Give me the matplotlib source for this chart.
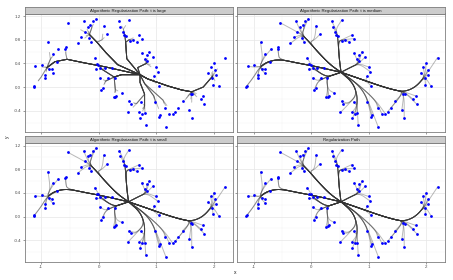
import numpy as np
import matplotlib
matplotlib.use('Agg')
import matplotlib.pyplot as plt
from matplotlib.ticker import MultipleLocator

plt.rcParams['font.family'] = ['Liberation Sans', 'DejaVu Sans']

panel_titles = ["Algorithmic Regularization Path: t is large",
                "Algorithmic Regularization Path: t is medium",
                "Algorithmic Regularization Path: t is small",
                "Regularization Path"]

# fusion nodes of the path tree (name, x, y, parent)
node_name = ['R', 'A1', 'A2', 'A3', 'A4', 'LH', 'LA', 'LB', 'LC',
             'U3', 'U2', 'U1', 'ULH', 'ULT', 'ULR',
             'M1', 'M2', 'UMH', 'UMT', 'MR',
             'RU1', 'RUH',
             'T1', 'T2', 'T3', 'RLH', 'T4', 'RH', 'TS',
             'D1', 'D2', 'DH', 'DL', 'F1', 'F2', 'F3',
             'LM0', 'LM', 'LMU', 'LMD', 'LML']
node_x = [0.52, 0.10, -0.25, -0.55, -0.76, -0.90, -1.00, -0.84, -0.57,
          0.33, 0.13, -0.03, -0.16, -0.12, 0.06,
          0.49, 0.47, 0.455, 0.43, 0.53,
          0.68, 0.83,
          0.85, 1.20, 1.45, 1.62, 1.82, 1.98, 0.95,
          0.72, 0.80, 0.80, 0.66, 0.80, 0.96, 1.12,
          0.40, 0.27, 0.06, 0.29, 0.12]
node_y = [0.25, 0.345, 0.41, 0.47, 0.43, 0.33, 0.17, 0.47, 0.56,
          0.38, 0.58, 0.76, 0.89, 1.00, 0.80,
          0.48, 0.76, 0.89, 0.98, 0.80,
          0.33, 0.40,
          0.14, 0.02, -0.05, -0.08, 0.00, 0.18, 0.10,
          0.08, -0.12, -0.32, -0.28, 0.06, -0.15, -0.22,
          0.21, 0.17, 0.30, -0.04, 0.10]
node_parent = [None, 'R', 'A1', 'A2', 'A3', 'A4', 'LH', 'LH', 'A3',
               'R', 'U3', 'U2', 'U1', 'ULH', 'U1',
               'R', 'M1', 'M2', 'UMH', 'M2',
               'R', 'RU1',
               'R', 'T1', 'T2', 'T3', 'RLH', 'T4', 'T1',
               'R', 'D1', 'D2', 'D2', 'R', 'F1', 'F1',
               'R', 'LM0', 'LM', 'LM', 'LM']
root_large = (0.72, 0.21)

# observed points and the node where they fuse first
pt_x = [-1.13, -1.12, -1.10, -0.99, -0.93, -0.93, -0.86, -0.81, -0.80, -0.88, -0.80, -0.70, -0.72, -0.57, -0.58,
        -0.54, -0.36, -0.30, -0.26, -0.24, -0.19, -0.15, -0.10, -0.05, -0.16, -0.13, 0.09, 0.15,
        0.36, 0.53, 0.38, 0.42, 0.44, 0.47, 0.54, 0.59, 0.66, 0.71, 0.75,
        0.75, 0.84, 0.88, 0.80, 0.84, 0.94, 1.00, 1.03,
        0.97, 1.05,
        2.20, 2.00, 1.95, 2.03, 1.91, 2.04, 1.98, 1.99, 2.09,
        1.60, 1.63, 1.82, 1.78, 1.84, 1.58, 1.62, 1.46, 1.39, 1.33,
        0.53, 0.56, 0.51, 0.74, 0.71, 0.76, 0.80, 0.72, 0.82, 0.98, 1.06, 1.05, 1.17, 1.16, 1.23, 1.29,
        -0.07, -0.03, -0.01, -0.04, 0.03, 0.11, 0.23, 0.03, 0.05, 0.08, 0.17, 0.28, 0.26, 0.29, 0.31, 0.40]
pt_y = [0.005, 0.02, 0.35, 0.37, 0.15, 0.21, 0.31, 0.30, 0.23, 0.76, 0.56, 0.64, 0.43, 0.67, 0.65,
        1.09, 0.74, 0.84, 1.11, 0.94, 1.02, 1.05, 1.11, 1.16, 0.83, 0.77, 1.04, 0.89,
        1.11, 1.13, 1.02, 0.94, 0.88, 0.86, 0.78, 0.80, 0.77, 0.88, 0.82,
        0.57, 0.55, 0.60, 0.47, 0.44, 0.51, 0.34, 0.26,
        0.18, 0.02,
        0.50, 0.40, 0.34, 0.29, 0.24, 0.21, 0.15, 0.04, 0.01,
        -0.11, -0.12, -0.15, -0.21, -0.29, -0.38, -0.52, -0.24, -0.35, -0.42,
        -0.24, -0.28, -0.43, -0.25, -0.43, -0.45, -0.44, -0.53, -0.65, -0.25, -0.47, -0.50, -0.68, -0.35, -0.45, -0.45,
        0.49, 0.39, 0.38, 0.31, 0.33, 0.33, 0.33, 0.16, -0.05, -0.01, 0.15, 0.15, -0.17, -0.16, -0.15, -0.10]
pt_parent = ['LA', 'LA', 'LH', 'LH', 'LH', 'LH', 'LH', 'LH', 'LH', 'LB', 'LB', 'LB', 'LH', 'LC', 'LC',
             'ULH', 'ULH', 'ULH', 'ULH', 'ULH', 'ULH', 'ULT', 'ULT', 'ULT', 'ULH', 'ULH', 'ULR', 'ULR',
             'UMT', 'UMT', 'UMH', 'UMH', 'UMH', 'UMH', 'MR', 'MR', 'MR', 'MR', 'MR',
             'RUH', 'RUH', 'RUH', 'RUH', 'RUH', 'RUH', 'RUH', 'RUH',
             'TS', 'TS',
             'RH', 'RH', 'RH', 'RH', 'RH', 'RH', 'RH', 'RH', 'RH',
             'RLH', 'RLH', 'RLH', 'RLH', 'RLH', 'RLH', 'RLH', 'RLH', 'RLH', 'RLH',
             'DL', 'DL', 'DL', 'DH', 'DH', 'DH', 'DH', 'DH', 'DH', 'F2', 'F2', 'F2', 'F2', 'F3', 'F3', 'F3',
             'LMU', 'LMU', 'LMU', 'LMU', 'LMU', 'LMU', 'LMU', 'LML', 'LML', 'LML', 'LML', 'LM', 'LMD', 'LMD', 'LMD', 'LMD']

x_ticks = [-1, 0, 1, 2]
y_ticks = [-0.4, 0.0, 0.4, 0.8, 1.2]

nodes = {n: (x, y, p) for n, x, y, p in zip(node_name, node_x, node_y, node_parent)}


def chain(start):
    pts = []
    n = start
    while n is not None:
        x, y, p = nodes[n]
        pts.append((x, y))
        n = p
    return pts


def chaikin(pts, k=3):
    pts = np.asarray(pts, float)
    for _ in range(k):
        new = [pts[0]]
        for i in range(len(pts) - 1):
            p, q = pts[i], pts[i + 1]
            new.append(0.75 * p + 0.25 * q)
            new.append(0.25 * p + 0.75 * q)
        new.append(pts[-1])
        pts = np.array(new)
    return pts


W, H = 453, 280
fig = plt.figure(figsize=(W / 100, H / 100), dpi=100)
col_x = [24.5, 237.0]
pw = 208.0
row_top = [13.5, 143.0]
ph = 118.5
sh = 6.5

for i, title in enumerate(panel_titles):
    r, c = divmod(i, 2)
    x0 = col_x[c] / W
    y0 = 1 - (row_top[r] + ph) / H
    ax = fig.add_axes([x0, y0, pw / W, ph / H])
    ax.set_xlim(-1.29, 2.33)
    ax.set_ylim(-0.76, 1.245)
    ax.set_xticks(x_ticks)
    ax.set_yticks(y_ticks)
    ax.xaxis.set_minor_locator(MultipleLocator(0.5))
    ax.yaxis.set_minor_locator(MultipleLocator(0.2))
    ax.grid(True, which='major', color='#E6E6E6', lw=0.5)
    ax.grid(True, which='minor', color='#F2F2F2', lw=0.3)
    ax.set_axisbelow(True)
    for s in ax.spines.values():
        s.set_color('#7F7F7F')
        s.set_linewidth(0.6)
    ax.tick_params(which='major', length=1.5, width=0.4, color='#4D4D4D', pad=1,
                   labelsize=3.2, labelcolor='#4D4D4D')
    ax.tick_params(which='minor', length=0)
    if r == 0:
        ax.tick_params(axis='x', labelbottom=False)
    else:
        ax.set_xticklabels(['-1', '0', '1', '2'])
    if c == 1:
        ax.tick_params(axis='y', labelleft=False)
    else:
        ax.set_yticklabels(['-0.4', '0.0', '0.4', '0.8', '1.2'])

    for px, py, par in zip(pt_x, pt_y, pt_parent):
        ch = chain(par)
        if i == 0:
            hx, hy = ch[0]
            stub = (hx + 0.4 * (px - hx), hy + 0.4 * (py - hy))
            path = np.array([stub] + ch[:-1] + [root_large])
        else:
            path = chaikin([(px, py)] + ch, 3)
        ax.plot(path[:, 0], path[:, 1], color='#333333', alpha=0.34, lw=0.7,
                solid_capstyle='round', zorder=2)
    ax.plot(pt_x, pt_y, 'o', color='#0000FF', ms=2.0, mew=0, zorder=3)

    sax = fig.add_axes([x0, 1 - row_top[r] / H, pw / W, sh / H])
    sax.set_facecolor('#CCCCCC')
    sax.set_xticks([])
    sax.set_yticks([])
    for s in sax.spines.values():
        s.set_color('#7F7F7F')
        s.set_linewidth(0.6)
    sax.text(0.5, 0.45, title, ha='center', va='center', fontsize=3.1,
             color='#1A1A1A', transform=sax.transAxes)

fig.text(235 / W, 1 - 273 / H, 'x', ha='center', va='center', fontsize=3.6, color='#1A1A1A')
fig.text(7 / W, 1 - 137 / H, 'y', ha='center', va='center', fontsize=3.6, rotation=90, color='#1A1A1A')

fig.savefig('out.png', dpi=100)
